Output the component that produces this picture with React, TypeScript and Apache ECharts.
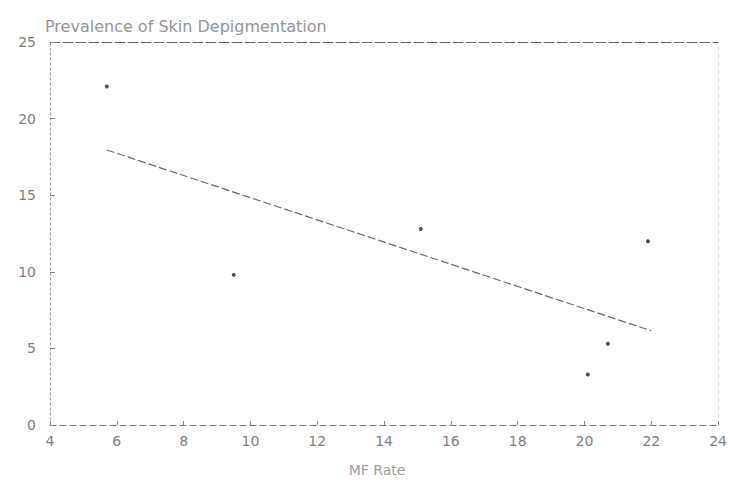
import React, { useEffect, useRef } from "react";
import * as echarts from "echarts";

const titleText = "Prevalence of Skin Depigmentation";
const xAxisName = "MF Rate";
const pointsX = [5.7, 9.5, 15.1, 21.9, 20.7, 20.1];
const pointsY = [22.1, 9.8, 12.8, 12.0, 5.3, 3.3];
const fitX = [5.7, 22.0];
const fitY = [17.95, 6.15];

export default function App() {
  const ref = useRef<HTMLDivElement>(null);
  useEffect(() => {
    if (!ref.current) return;
    const chart = echarts.init(ref.current, undefined, { renderer: "svg" });
    const scatter = pointsX.map((x, i) => [x, pointsY[i]]);
    const fit = fitX.map((x, i) => [x, fitY[i]]);
    const txt = "#808080";
    chart.setOption({
      animation: false,
      backgroundColor: "#ffffff",
      title: {
        text: titleText,
        left: 40,
        top: 13,
        textStyle: {
          fontFamily: "DejaVu Sans",
          fontSize: 16,
          fontWeight: "normal",
          color: "#959595",
        },
      },
      grid: { left: 50, right: 11, top: 42, bottom: 59 },
      xAxis: [
        {
          type: "value",
          min: 4,
          max: 24,
          interval: 2,
          name: xAxisName,
          nameLocation: "middle",
          nameGap: 38,
          nameTextStyle: { color: "#a0a0a0", fontSize: 14, fontFamily: "DejaVu Sans", padding: [0, 14, 0, 0] },
          axisLine: { show: true, onZero: false, lineStyle: { color: "#777", width: 1, type: [6, 4] } },
          axisTick: { show: true, inside: true, length: 4, lineStyle: { color: "#888" } },
          axisLabel: { color: txt, fontSize: 14, margin: 9, fontFamily: "DejaVu Sans" },
          splitLine: { show: false },
        },
        {
          type: "value",
          position: "top",
          min: 4,
          max: 24,
          axisLine: { show: true, onZero: false, lineStyle: { color: "#666", width: 1, type: [10, 3] } },
          axisTick: { show: false },
          axisLabel: { show: false },
          splitLine: { show: false },
        },
      ],
      yAxis: [
        {
          type: "value",
          min: 0,
          max: 25,
          interval: 5,
          axisLine: { show: true, onZero: false, lineStyle: { color: "#999", width: 1, type: [2, 3] } },
          axisTick: { show: true, inside: true, length: 5, lineStyle: { color: "#888" } },
          axisLabel: { color: txt, fontSize: 14, margin: 14, fontFamily: "DejaVu Sans" },
          splitLine: { show: false },
        },
        {
          type: "value",
          position: "right",
          min: 0,
          max: 25,
          axisLine: { show: true, onZero: false, lineStyle: { color: "#d0d0d0", width: 1, type: [2, 6] } },
          axisTick: { show: false },
          axisLabel: { show: false },
          splitLine: { show: false },
        },
      ],
      series: [
        {
          type: "line",
          data: fit,
          symbol: "none",
          lineStyle: { color: "#6a6a6a", width: 1.2, type: [8, 3] },
          z: 2,
        },
        {
          type: "scatter",
          data: scatter,
          symbol: "circle",
          symbolSize: 4,
          itemStyle: { color: "#222" },
          z: 3,
        },
      ],
    });
    return () => chart.dispose();
  }, []);
  return <div ref={ref} style={{ width: 730, height: 484, position: "absolute", left: 0, top: 0 }} />;
}
